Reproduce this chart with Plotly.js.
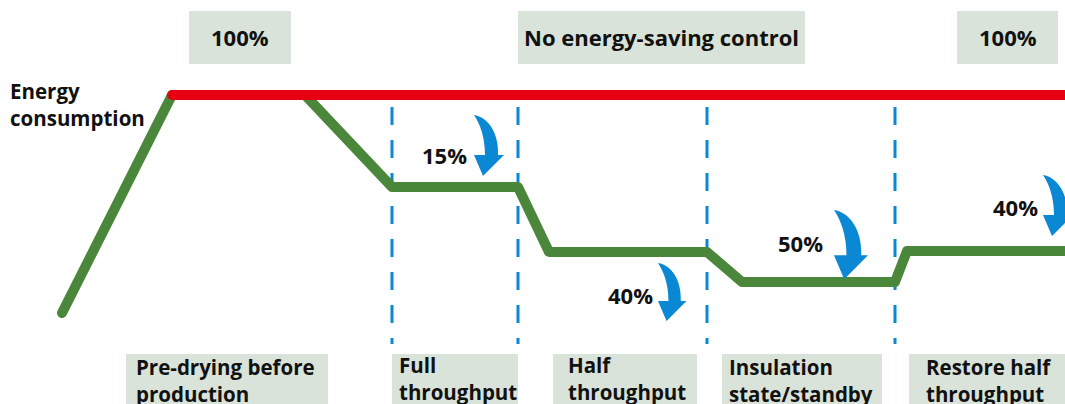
<!DOCTYPE html>
<html>
<head>
<meta charset="utf-8">
<script src="https://cdn.plot.ly/plotly-3.0.1.min.js"></script>
<style>
  html, body { margin: 0; padding: 0; background: #ffffff; }
  #chart { width: 1065px; height: 404px; }
  .js-line { stroke-linecap: round !important; stroke-linejoin: round !important; }
</style>
</head>
<body>
<div id="chart"></div>
<script>
// ---- data (time on x, energy level on y; both in chart units) ----
const greenTime   = [62, 172, 305, 392, 518, 549, 707, 742, 895, 907, 1080];
const greenEnergy = [91, 309, 309, 217, 217, 152, 152, 122, 122, 153, 153];
const redTime     = [172, 1080];
const redEnergy   = [309, 309];
const phaseBoundaries = [392, 518, 707, 895];
const savingLabels = ["15%", "40%", "50%", "40%"];
const savingLabelTime = [444, 630, 800, 1015];
const savingLabelEnergy = [249, 109, 161, 197];
const arrowTime   = [474, 658, 834, 1043];
const arrowEnergy = [289, 141, 194, 229];
const arrowSize   = [60, 57, 68, 60];
const topLabels = ["100%", "No energy-saving control", "100%"];
const yLabel = ["Energy", "consumption"];
const phaseLabels = [
  ["Pre-drying before", "production"],
  ["Full", "throughput"],
  ["Half", "throughput"],
  ["Insulation", "state/standby"],
  ["Restore half", "throughput"]
];

// ---- layout geometry ----
const W = 1065, H = 404;
const FONT = "Open Sans, Noto Sans, DejaVu Sans, sans-serif";
const TXT = "#111111";
const BOX = "#d9e3d9";
const BLUE = "#0a88d4";
const toY = py => H - py;

const topBoxes = [[189, 291], [518, 805], [957, 1058]];
const bottomBoxes = [[126, 328], [392, 518], [553, 697], [722, 882], [909, 1070]];
const phaseTextX = [135, 398, 567, 728, 925];
const phaseTextMid = [380, 378, 378, 380, 380];

const shapes = [];
topBoxes.forEach(b => shapes.push({type: "rect", xref: "x", yref: "y", x0: b[0], x1: b[1], y0: toY(64), y1: toY(11), fillcolor: BOX, line: {width: 0}, layer: "below"}));
bottomBoxes.forEach(b => shapes.push({type: "rect", xref: "x", yref: "y", x0: b[0], x1: b[1], y0: toY(410), y1: toY(354), fillcolor: BOX, line: {width: 0}, layer: "below"}));
phaseBoundaries.forEach(x => shapes.push({type: "line", xref: "x", yref: "y", x0: x, x1: x, y0: toY(107), y1: toY(344), line: {color: BLUE, width: 3, dash: "18px,15px"}, layer: "below"}));

// curved arrow glyph (relative units, height 60, y pointing down)
function arrowPath(tx, te, h) {
  const s = h / 60;
  const X = d => (tx + d * s).toFixed(2);
  const Y = d => (te - d * s).toFixed(2);
  return "M" + X(0) + "," + Y(0) +
    " C" + X(14) + "," + Y(2) + " " + X(25) + "," + Y(18) + " " + X(24) + "," + Y(40) +
    " L" + X(30) + "," + Y(40) +
    " L" + X(9) + "," + Y(61) +
    " L" + X(0) + "," + Y(40) +
    " L" + X(11) + "," + Y(40) +
    " C" + X(11) + "," + Y(22) + " " + X(6) + "," + Y(9) + " " + X(0) + "," + Y(0) + " Z";
}
arrowTime.forEach((t, i) => shapes.push({type: "path", xref: "x", yref: "y", path: arrowPath(t, arrowEnergy[i], arrowSize[i]), fillcolor: BLUE, line: {width: 0}, layer: "above"}));

const annotations = [];
function addText(text, x, y, anchor, size) {
  annotations.push({text: text, xref: "x", yref: "y", x: x, y: y, xanchor: anchor, yanchor: "middle", align: anchor === "left" ? "left" : "center", showarrow: false, borderpad: 0, font: {family: FONT, size: size, color: TXT, weight: 700}});
}
addText(yLabel.join("<br>"), 9, toY(104), "left", 20.5);
topLabels.forEach((t, i) => addText(t, (topBoxes[i][0] + topBoxes[i][1]) / 2, toY(37), "center", 22));
savingLabels.forEach((t, i) => addText(t, savingLabelTime[i], savingLabelEnergy[i], "center", 22));
phaseLabels.forEach((lines, i) => addText(lines.join("<br>"), phaseTextX[i], toY(phaseTextMid[i]), "left", 20.5));

const traces = [
  {x: greenTime, y: greenEnergy, type: "scatter", mode: "lines", line: {color: "#4b873a", width: 10}, hoverinfo: "skip"},
  {x: redTime, y: redEnergy, type: "scatter", mode: "lines", line: {color: "#e60012", width: 10}, hoverinfo: "skip"}
];

const layout = {
  width: W, height: H,
  margin: {l: 0, r: 0, t: 0, b: 0, pad: 0},
  paper_bgcolor: "#ffffff", plot_bgcolor: "#ffffff",
  showlegend: false,
  xaxis: {range: [0, W], visible: false, fixedrange: true},
  yaxis: {range: [0, H], visible: false, fixedrange: true},
  shapes: shapes,
  annotations: annotations
};

Plotly.newPlot("chart", traces, layout, {displayModeBar: false, staticPlot: true});
</script>
</body>
</html>
